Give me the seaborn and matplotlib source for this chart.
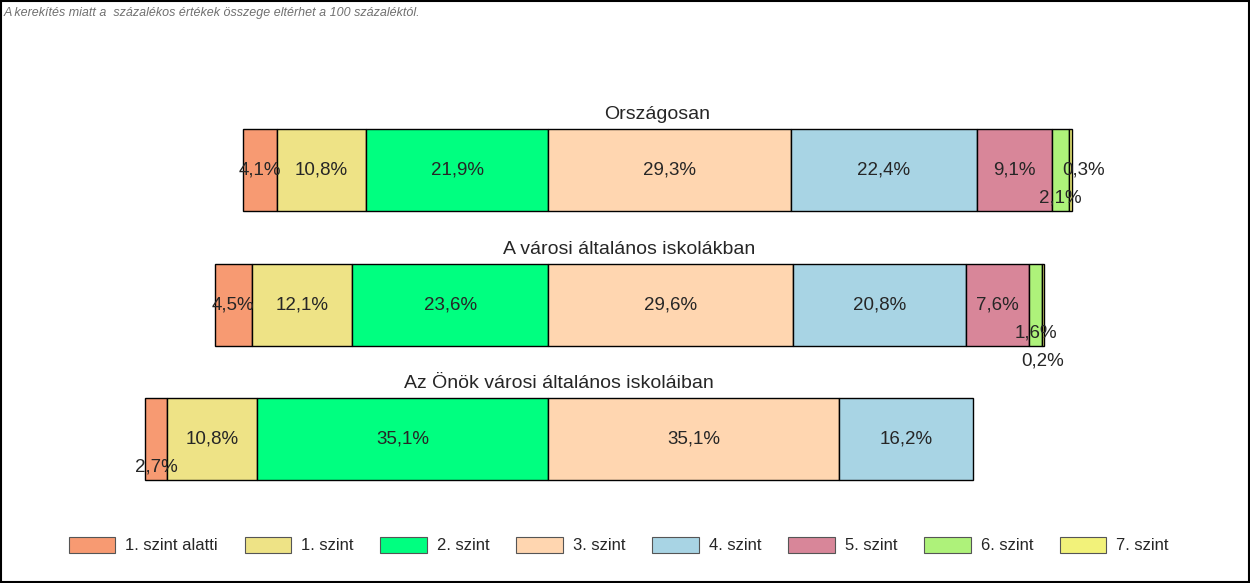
import matplotlib
matplotlib.use("Agg")
import matplotlib.pyplot as plt
import seaborn as sns
from matplotlib.patches import Patch, Rectangle

sns.set_style("white")
plt.rcParams["font.family"] = "Liberation Sans"

groups = ["Országosan", "A városi általános iskolákban", "Az Önök városi általános iskoláiban"]
levels = ["1. szint alatti", "1. szint", "2. szint", "3. szint", "4. szint", "5. szint", "6. szint", "7. szint"]
values = [
    [4.1, 10.8, 21.9, 29.3, 22.4, 9.1, 2.1, 0.3],
    [4.5, 12.1, 23.6, 29.6, 20.8, 7.6, 1.6, 0.2],
    [2.7, 10.8, 35.1, 35.1, 16.2, 0.0, 0.0, 0.0],
]
colors = ["#F79A72", "#EEE386", "#00FF80", "#FFD6B0", "#A8D4E4", "#D88699", "#AEF27A", "#F2F27A"]

S = 8.29  # px per percent
x0 = 548
fig = plt.figure(figsize=(12.5, 5.83), dpi=100)
ax = fig.add_axes([0, 0, 1, 1])
ax.set_xlim(-x0 / S, (1250 - x0) / S)
ax.set_ylim(583, 0)
ax.axis("off")

centers = [170, 305, 439]
H = 82
for gi, (g, vals) in enumerate(zip(groups, values)):
    yc = centers[gi]
    start = -sum(vals[:3])
    total = sum(vals)
    ax.text(start + total / 2, yc - H / 2 - 6, g, ha="center", va="bottom", fontsize=14)
    left = start
    small_i = 0
    for li, v in enumerate(vals):
        if v <= 0:
            continue
        ax.barh(yc, v, left=left, height=H, color=colors[li], edgecolor="black", linewidth=1)
        cx = left + v / 2
        lab = f"{v:.1f}%".replace(".", ",")
        if v < 3 and gi == 0 and li == 7:
            ax.text(cx + 1.5, yc, lab, ha="center", va="center", fontsize=13.5)
        elif v < 3:
            small_i += 1
            ax.text(cx, yc + 28 * small_i, lab, ha="center", va="center", fontsize=13.5)
        else:
            ax.text(cx, yc, lab, ha="center", va="center", fontsize=13.5)
        left += v

fig.text(0.003, 0.977, "A kerekítés miatt a  százalékos értékek összege eltérhet a 100 százaléktól.",
         fontsize=9, style="italic", color="#707070", va="center", ha="left")

handles = [Patch(facecolor=c, edgecolor="#555555", linewidth=0.8) for c in colors]
fig.legend(handles, levels, loc="center", bbox_to_anchor=(0.495, 0.065), ncol=8, frameon=False,
           fontsize=12, handlelength=2.8, handleheight=1.1, columnspacing=1.6, handletextpad=0.6)
fig.add_artist(Rectangle((0.0008, 0.0015), 0.998, 0.997, transform=fig.transFigure,
                         fill=False, edgecolor="black", linewidth=1.5))
fig.savefig("out.png", dpi=100)
